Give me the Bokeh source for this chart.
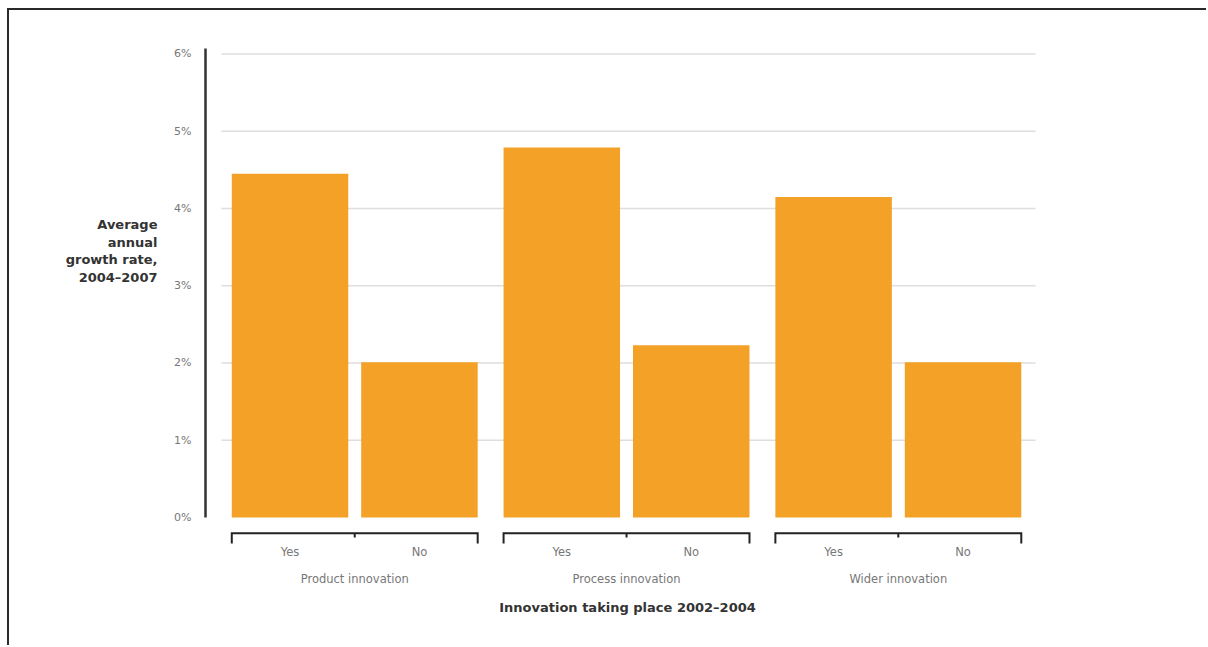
from bokeh.plotting import figure
from bokeh.models import Range1d, LinearAxis, FixedTicker, ColumnDataSource
from bokeh.embed import file_html
from bokeh.resources import INLINE

# ---- data ----
groups = ["Product innovation", "Process innovation", "Wider innovation"]
answers = ["Yes", "No"]
yes_values = [4.45, 4.79, 4.15]
no_values = [2.01, 2.23, 2.01]
y_ticks = [0, 1, 2, 3, 4, 5, 6]
y_title_lines = ["Average", "annual", "growth rate,", "2004\u20132007"]
x_title = "Innovation taking place 2002\u20132004"

# ---- layout helpers ----
GROUP_GAP = 0.1
BAR_W = 0.9
FONT = "DejaVu Sans"
BAR_COLOR = "#F4A128"
X_START, X_END = -0.153, 6.368
TITLE_LIFT_LINES = 5   # empty lines appended so the title sits beside the upper half


def pos(g, a):
    return g * (len(answers) + GROUP_GAP) + a + 0.5


bar_x, bar_top, bar_lab = [], [], []
series = [yes_values, no_values]
for g in range(len(groups)):
    for a, ans in enumerate(answers):
        bar_x.append(pos(g, a))
        bar_top.append(series[a][g])
        bar_lab.append(ans)
group_x = [(pos(g, 0) + pos(g, len(answers) - 1)) / 2 for g in range(len(groups))]

p = figure(width=1199, height=637, output_backend="svg", toolbar_location=None,
           x_axis_type=None, y_axis_type=None,
           x_range=Range1d(X_START, X_END), y_range=Range1d(-0.35, 6.11),
           min_border_left=196, min_border_right=159, min_border_top=35,
           min_border_bottom=103)
p.outline_line_color = None
p.background_fill_color = "white"
p.border_fill_color = "white"
p.styles = {"border-top": "2px solid #2a2a2a", "border-left": "2px solid #2a2a2a",
            "margin-top": "8px", "margin-left": "7px"}

# gridlines
gl_x0 = bar_x[0] - 0.53
gl_x1 = bar_x[-1] + 0.56
grid_y = [t for t in y_ticks if t > 0]
p.segment(x0=[gl_x0] * len(grid_y), x1=[gl_x1] * len(grid_y), y0=grid_y, y1=grid_y,
          line_color="#dedede", line_width=1.5)

# bars
src = ColumnDataSource(dict(x=bar_x, top=bar_top, lab=bar_lab))
p.vbar(x="x", top="top", bottom=0, width=BAR_W, source=src,
       fill_color=BAR_COLOR, line_color=None)

# brackets under each group
half = BAR_W / 2
br_y, br_end, br_mid = -0.203, -0.337, -0.26
bxs, bys = [], []
for g in range(len(groups)):
    left = pos(g, 0) - half
    right = pos(g, len(answers) - 1) + half
    bxs.append([left, left, right, right])
    bys.append([br_end, br_y, br_y, br_end])
    bxs.append([group_x[g], group_x[g]])
    bys.append([br_y, br_mid])
p.multi_line(xs=bxs, ys=bys, line_color="#222222", line_width=2, line_join="miter")

# y axis (ticks + line)
yax = LinearAxis(ticker=FixedTicker(ticks=y_ticks), bounds=(0, y_ticks[-1] + 0.07))
yax.major_label_overrides = {t: f"{t}%" for t in y_ticks}
yax.axis_line_color = "#333333"
yax.axis_line_width = 2.5
yax.major_tick_line_color = None
yax.minor_tick_line_color = None
yax.major_tick_in = 0
yax.major_tick_out = 0
yax.minor_tick_out = 0
yax.major_label_standoff = 14
yax.major_label_text_font = FONT
yax.major_label_text_font_size = "11px"
yax.major_label_text_color = "#777777"
p.add_layout(yax, "left")

# y title on its own label-only axis
ytl = LinearAxis(ticker=FixedTicker(ticks=[]))
ytl.axis_line_color = None
ytl.major_tick_line_color = None
ytl.minor_tick_line_color = None
ytl.major_tick_out = 0
ytl.minor_tick_out = 0
ytl.major_label_standoff = 0
ytl.axis_label = "\n".join(y_title_lines + [""] * TITLE_LIFT_LINES)
ytl.axis_label_orientation = "horizontal"
ytl.axis_label_standoff = 14
ytl.axis_label_text_font = FONT
ytl.axis_label_text_font_style = "bold"
ytl.axis_label_text_font_size = "13px"
ytl.axis_label_text_color = "#333333"
ytl.axis_label_text_align = "right"
ytl.axis_label_text_line_height = 1.17
p.add_layout(ytl, "left")

# x axis: Yes / No
xa = LinearAxis(ticker=FixedTicker(ticks=bar_x),
                major_label_overrides=dict(zip(bar_x, bar_lab)))
xa.axis_line_color = None
xa.major_tick_line_color = None
xa.minor_tick_line_color = None
xa.major_tick_out = 0
xa.minor_tick_out = 0
xa.major_label_standoff = 0
xa.major_label_text_font = FONT
xa.major_label_text_font_size = "11.5px"
xa.major_label_text_color = "#777777"
p.add_layout(xa, "below")

# x axis: group names + title
xg = LinearAxis(ticker=FixedTicker(ticks=group_x),
                major_label_overrides=dict(zip(group_x, groups)))
xg.axis_line_color = None
xg.major_tick_line_color = None
xg.minor_tick_line_color = None
xg.major_tick_out = 0
xg.minor_tick_out = 0
xg.major_label_standoff = 10
xg.major_label_text_font = FONT
xg.major_label_text_font_size = "11.5px"
xg.major_label_text_color = "#777777"
xg.axis_label = x_title
xg.axis_label_standoff = 11
xg.axis_label_text_font = FONT
xg.axis_label_text_font_style = "bold"
xg.axis_label_text_font_size = "13px"
xg.axis_label_text_color = "#333333"
p.add_layout(xg, "below")

open("out.html", "w").write(file_html(p, INLINE))
